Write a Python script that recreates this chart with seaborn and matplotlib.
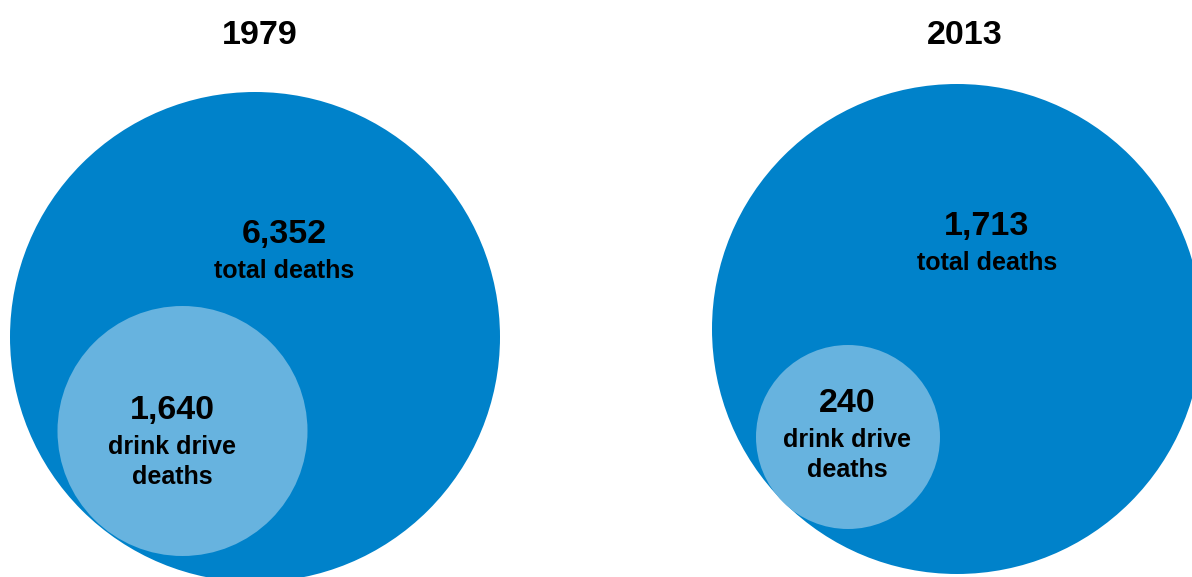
import matplotlib
matplotlib.use("Agg")
import matplotlib.pyplot as plt
from matplotlib.patches import Circle
import seaborn as sns

# Road deaths, total vs drink drive
years = ["1979", "2013"]
total_deaths = [6352, 1713]
drink_drive_deaths = [1640, 240]
total_label = "total deaths"
dd_label = "drink drive\ndeaths"

# Layout in figure pixels (x right, y down)
outer_centers = [(255, 337), (957, 329)]
outer_radius = [245, 245]
inner_centers = [(182.5, 431), (848, 437)]
inner_radius = [125, 92]
title_pos = [(260, 35), (965, 35)]
total_pos = [(284, 235), (987, 227)]
dd_pos = [(172, 410), (847, 403)]

dark_blue = "#0082CA"
light_blue = "#67B3DF"

sns.set_theme(style="white")
plt.rcParams["font.family"] = ["Liberation Sans", "DejaVu Sans"]

W, H = 1192, 577
fig = plt.figure(figsize=(W / 100, H / 100), dpi=100)
ax = fig.add_axes([0, 0, 1, 1])
ax.set_xlim(0, W)
ax.set_ylim(H, 0)
ax.set_aspect("equal")
ax.axis("off")

for i, year in enumerate(years):
    ax.add_patch(Circle(outer_centers[i], outer_radius[i], color=dark_blue, lw=0))
    ax.add_patch(Circle(inner_centers[i], inner_radius[i], color=light_blue, lw=0))

    ax.text(*title_pos[i], year, ha="center", va="center",
            fontsize=24.5, fontweight="bold", color="black")

    tx, ty = total_pos[i]
    ax.text(tx, ty, f"{total_deaths[i]:,}", ha="center", va="center",
            fontsize=24.5, fontweight="bold", color="black")
    ax.text(tx, ty + 36, total_label, ha="center", va="center",
            fontsize=18, fontweight="bold", color="black")

    dx, dy = dd_pos[i]
    ax.text(dx, dy, f"{drink_drive_deaths[i]:,}", ha="center", va="center",
            fontsize=24.5, fontweight="bold", color="black")
    ax.text(dx, dy + 52, dd_label, ha="center", va="center",
            fontsize=18, fontweight="bold", color="black", linespacing=1.3)

fig.savefig("out.png", dpi=100)
